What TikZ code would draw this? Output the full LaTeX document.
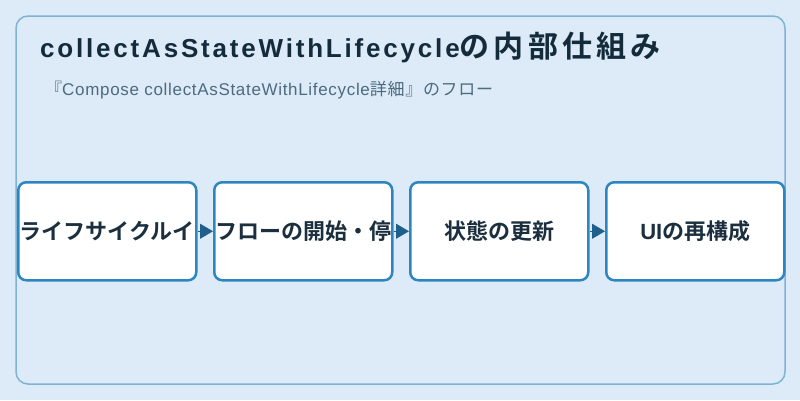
\documentclass[tikz,border=0pt]{standalone}
\usepackage{fontspec}
\setmainfont{Noto Sans CJK JP}
\newfontfamily\jpbold{Noto Sans CJK JP Bold}
\newfontfamily\titlecjk[LetterSpace=14]{Noto Sans CJK JP Bold}
\newfontfamily\titlelat[LetterSpace=10.8]{Liberation Sans}
\newfontfamily\sublat[LetterSpace=4]{Liberation Sans}
\newfontfamily\subcjk[LetterSpace=4]{Noto Sans CJK JP}
\newfontfamily\boxlat{Liberation Sans}
\usetikzlibrary{arrows.meta}
\definecolor{bgc}{HTML}{DCEBF7}
\definecolor{framec}{HTML}{7FB3D5}
\definecolor{boxc}{HTML}{2E86C1}
\definecolor{arrc}{HTML}{1F5F8B}
\definecolor{titlec}{HTML}{142B3C}
\definecolor{subc}{HTML}{4D6A80}
\definecolor{textc}{HTML}{1B2F3E}
\tikzset{
  stepbox/.style={draw=boxc, line width=2.5pt, fill=white, rounded corners=8pt,
    minimum width=178pt, minimum height=98pt, inner sep=0pt, anchor=north west,
    text=textc, font=\jpbold\fontsize{22}{25}\selectfont},
  flowarrow/.style={draw=arrc, line width=1pt, -{Triangle[length=13pt,width=15pt]}, arrc},
}
\begin{document}
\begin{tikzpicture}[x=1pt,y=-1pt]
\fill[bgc] (0,0) rectangle (800,400);
\useasboundingbox (0,0) rectangle (800,400);
\draw[framec, line width=1.5pt, rounded corners=12pt] (16,16) rectangle (785,384);
\node[anchor=base west, text=titlec, font=\fontsize{26}{30}\selectfont, inner sep=0pt] (title) at (40,57)
  {{\titlelat\bfseries collectAsStateWithLifecycle}{\titlecjk\fontsize{30}{34}\selectfont の内部仕組み}};
\node[anchor=base west, text=subc, font=\fontsize{17}{20}\selectfont, inner sep=0pt] (sub) at (45,95)
  {{\subcjk 『}{\sublat Compose collectAsStateWithLifecycle}{\subcjk 詳細』のフロー}};
\node[stepbox] (b1) at (17,181) {ライフサイクルイ};
\node[stepbox] (b2) at (213,181) {フローの開始・停};
\node[stepbox] (b3) at (409,181) {状態の更新};
\node[stepbox] (b4) at (605,181) {{\boxlat\bfseries UI}の再構成};
\draw[flowarrow] (b1.east) -- (b2.west);
\draw[flowarrow] (b2.east) -- (b3.west);
\draw[flowarrow] (b3.east) -- (b4.west);
\end{tikzpicture}
\end{document}
